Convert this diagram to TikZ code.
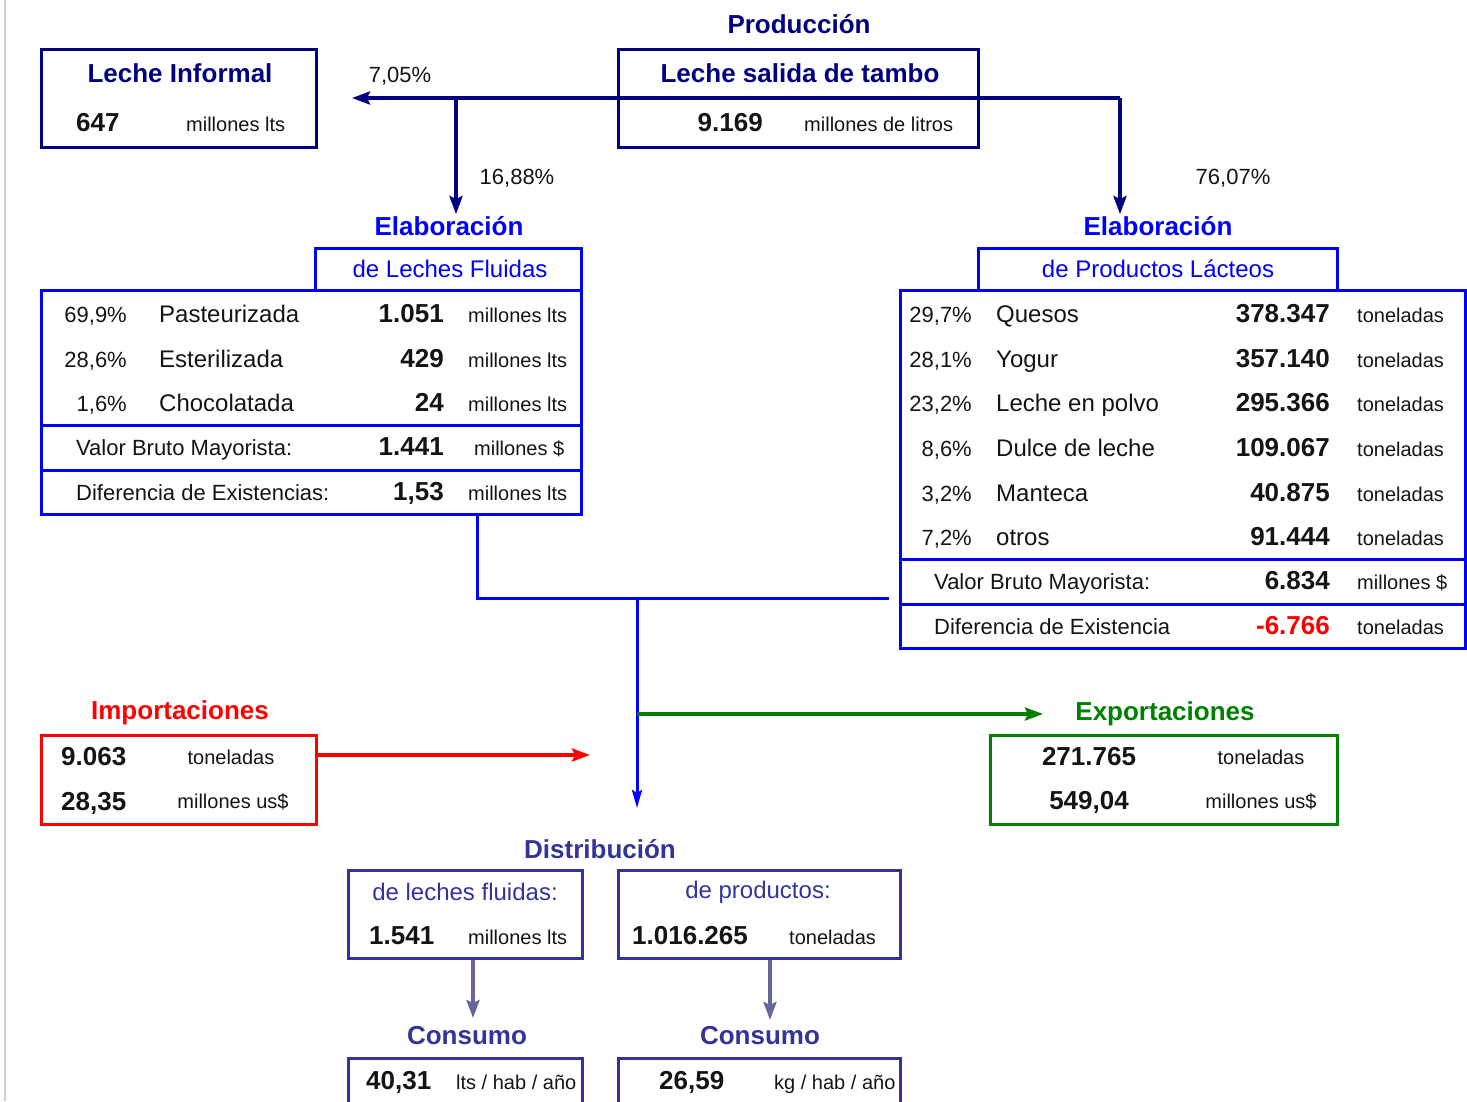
\documentclass[tikz,border=0pt]{standalone}
\usepackage{fontspec}
\setmainfont{Liberation Sans}
\usepackage{xcolor}
\usepackage{tikz}
\usetikzlibrary{calc,arrows.meta,positioning}
\definecolor{lcNavy}{RGB}{0,0,128}
\definecolor{lcBlue}{RGB}{0,0,255}
\definecolor{lcRed}{RGB}{255,0,0}
\definecolor{lcGreen}{RGB}{0,128,0}
\definecolor{lcSlate}{RGB}{51,51,153}
\definecolor{lcSlateLight}{RGB}{102,102,153}
\definecolor{lcText}{RGB}{20,20,20}

\tikzset{
    boxline/.style={draw=#1, line width=3pt, inner sep=0pt},
    ttl/.style={font=\fontsize{26}{30}\selectfont\bfseries, inner sep=2pt},
    subttl/.style={font=\fontsize{24}{28}\selectfont, inner sep=2pt},
    txt/.style={font=\fontsize{24}{28}\selectfont, text=lcText, inner sep=2pt},
    pcttxt/.style={font=\fontsize{22}{26}\selectfont, text=lcText, inner sep=2pt},
    lbl/.style={font=\fontsize{22}{26}\selectfont, text=lcText, inner sep=2pt},
    val/.style={font=\fontsize{26}{30}\selectfont\bfseries, text=lcText, inner sep=2pt},
    unittxt/.style={font=\fontsize{20}{24}\selectfont, text=lcText, inner sep=2pt},
    atleft/.style={anchor=mid west, yshift=-6pt},
    atright/.style={anchor=mid east, yshift=-6pt},
    flow/.style={draw=#1, line width=3.5pt, -{Stealth[length=18pt,width=13pt,inset=3pt]}},
}

\begin{document}
\begin{tikzpicture}[x=1pt,y=-1pt]
    \useasboundingbox (0,0) rectangle (1467,1101);
    \clip (0,0) rectangle (1467,1101);
    \draw[gray!35, line width=1.5pt] (5,0) -- (5,1101);

    \node[boxline=lcNavy, minimum width=275pt, minimum height=98pt] (infBox) at (178.5,98) {};
    \node[ttl, text=lcNavy] (infTtl) at (180,73) {Leche Informal};
    \node[val, atleft] (infVal) at (74,123) {647};
    \node[unittxt, atleft] (infUnit) at (184,123) {millones lts};

    \node[ttl, text=lcNavy] (prodTtl) at (799,24) {Producción};
    \node[boxline=lcNavy, minimum width=360pt, minimum height=98pt] (prodBox) at (798,98) {};
    \node[ttl, text=lcNavy] (prodHead) at (800,73) {Leche salida de tambo};
    \node[val, atright] (prodVal) at (765,123) {9.169};
    \node[unittxt, atleft] (prodUnit) at (802,123) {millones de litros};

    \node[ttl, text=lcBlue] (elabL) at (449,226) {Elaboración};
    \node[boxline=lcBlue, minimum width=266pt, minimum height=42pt] (lflHead) at (448,269) {};
    \node[subttl, text=lcBlue] (lflSub) at (450,269) {de Leches Fluidas};
    \node[boxline=lcBlue, minimum width=540pt, minimum height=224pt] (lflTab) at (311,402) {};
    \draw[lcBlue, line width=3pt] (lflTab.west |- 0,425) -- (lflTab.east |- 0,425);
    \draw[lcBlue, line width=3pt] (lflTab.west |- 0,470) -- (lflTab.east |- 0,470);
    \foreach \p/\n/\v [count=\i] in {{69,9\%}/Pasteurizada/1.051, {28,6\%}/Esterilizada/429, {1,6\%}/Chocolatada/24}{
        \node[pcttxt, atright] (lflP\i) at (129,{314+44.5*(\i-1)}) {\p};
        \node[txt, atleft] (lflN\i) at (157,{314+44.5*(\i-1)}) {\n};
        \node[val, atright] (lflV\i) at (446,{314+44.5*(\i-1)}) {\v};
        \node[unittxt, atleft] (lflU\i) at (466,{314+44.5*(\i-1)}) {millones lts};
    }
    \node[lbl, atleft] (lflVbm) at (74,447) {Valor Bruto Mayorista:};
    \node[val, atright] (lflVbmV) at (446,447) {1.441};
    \node[unittxt, atleft] (lflVbmU) at (472,447) {millones \$};
    \node[lbl, atleft] (lflDif) at (74,492) {Diferencia de Existencias:};
    \node[val, atright] (lflDifV) at (446,492) {1,53};
    \node[unittxt, atleft] (lflDifU) at (466,492) {millones lts};

    \node[ttl, text=lcBlue] (elabR) at (1158,226) {Elaboración};
    \node[boxline=lcBlue, minimum width=359pt, minimum height=42pt] (lacHead) at (1157.5,269) {};
    \node[subttl, text=lcBlue] (lacSub) at (1158,269) {de Productos Lácteos};
    \node[boxline=lcBlue, minimum width=565pt, minimum height=358pt] (lacTab) at (1182.5,469) {};
    \draw[lcBlue, line width=3pt] (lacTab.west |- 0,559) -- (lacTab.east |- 0,559);
    \draw[lcBlue, line width=3pt] (lacTab.west |- 0,604) -- (lacTab.east |- 0,604);
    \foreach \p/\n/\v [count=\i] in {{29,7\%}/Quesos/378.347, {28,1\%}/Yogur/357.140, {23,2\%}/Leche en polvo/295.366,
        {8,6\%}/Dulce de leche/109.067, {3,2\%}/Manteca/40.875, {7,2\%}/otros/91.444}{
        \node[pcttxt, atright] (lacP\i) at (974,{314+44.6*(\i-1)}) {\p};
        \node[txt, atleft] (lacN\i) at (994,{314+44.6*(\i-1)}) {\n};
        \node[val, atright] (lacV\i) at (1332,{314+44.6*(\i-1)}) {\v};
        \node[unittxt, atleft] (lacU\i) at (1355,{314+44.6*(\i-1)}) {toneladas};
    }
    \node[lbl, atleft] (lacVbm) at (932,581) {Valor Bruto Mayorista:};
    \node[val, atright] (lacVbmV) at (1332,581) {6.834};
    \node[unittxt, atleft] (lacVbmU) at (1355,581) {millones \$};
    \node[lbl, atleft] (lacDif) at (932,626) {Diferencia de Existencia};
    \node[val, atright, text=lcRed] (lacDifV) at (1332,626) {-6.766};
    \node[unittxt, atleft] (lacDifU) at (1355,626) {toneladas};

    \coordinate (split) at (456,98);
    \coordinate (rturn) at (1120,98);
    \coordinate (toInf) at (352,98);
    \draw[flow=lcNavy] (rturn) -- (toInf);
    \draw[flow=lcNavy] (split) -- (split |- elabL.north);
    \draw[flow=lcNavy] (rturn) -- (rturn |- elabR.north);
    \node[lbl] (pInf) at (400,76) {7,05\%};
    \node[lbl] (pFl) at (517,178) {16,88\%};
    \node[lbl] (pLac) at (1233,178) {76,07\%};

    \coordinate (join) at (637,598);
    \coordinate (distIn) at (637,808);
    \draw[lcBlue, line width=3pt] ([xshift=166pt]lflTab.south) |- ([xshift=-10pt]lacTab.west |- join);
    \draw[lcBlue, line width=3pt, -{Stealth[length=18pt,width=10pt,inset=3pt]}] (join) -- (distIn);

    \node[ttl, text=lcRed] (impTtl) at (180,713) {Importaciones};
    \node[boxline=lcRed, minimum width=275pt, minimum height=89pt] (impBox) at (178.5,779.5) {};
    \node[val, atleft] (impV1) at (59,757) {9.063};
    \node[unittxt] (impU1) at (231,757) {toneladas};
    \node[val, atleft] (impV2) at (59,802) {28,35};
    \node[unittxt] (impU2) at (233,802) {millones us\$};
    \coordinate (impOut) at (590,755);
    \draw[flow=lcRed] (impBox.east |- impOut) -- (impOut);

    \node[ttl, text=lcGreen] (expTtl) at (1165,714) {Exportaciones};
    \node[boxline=lcGreen, minimum width=347pt, minimum height=89pt] (expBox) at (1163.5,779.5) {};
    \node[val] (expV1) at (1089,757) {271.765};
    \node[unittxt] (expU1) at (1261,757) {toneladas};
    \node[val] (expV2) at (1089,802) {549,04};
    \node[unittxt] (expU2) at (1261,802) {millones us\$};
    \coordinate (expIn) at (1043,714);
    \draw[flow=lcGreen] (join |- expIn) -- (expIn);

    \node[ttl, text=lcSlate] (distTtl) at (600,849) {Distribución};
    \node[boxline=lcSlate, minimum width=234pt, minimum height=88pt] (dFl) at (465,914) {};
    \node[subttl, text=lcSlate] (dFlSub) at (465,892) {de leches fluidas:};
    \node[val, atleft] (dFlV) at (367,936) {1.541};
    \node[unittxt, atleft] (dFlU) at (466,936) {millones lts};
    \node[boxline=lcSlate, minimum width=282pt, minimum height=88pt] (dPr) at (759,914) {};
    \node[subttl, text=lcSlate] (dPrSub) at (758,892) {de productos:};
    \node[val, atleft] (dPrV) at (630,936) {1.016.265};
    \node[unittxt, atleft] (dPrU) at (787,936) {toneladas};

    \coordinate (cIn1) at (473,1018);
    \coordinate (cIn2) at (770,1020);
    \draw[flow=lcSlateLight] (dFl.south -| cIn1) -- (cIn1);
    \draw[flow=lcSlateLight] (dPr.south -| cIn2) -- (cIn2);

    \node[ttl, text=lcSlate] (cFlTtl) at (467,1036) {Consumo};
    \node[boxline=lcSlate, minimum width=234pt, minimum height=64pt] (cFl) at (465,1090) {};
    \node[val, atleft] (cFlV) at (364,1081) {40,31};
    \node[unittxt, atleft] (cFlU) at (454,1081) {lts / hab / año};
    \node[ttl, text=lcSlate] (cPrTtl) at (760,1036) {Consumo};
    \node[boxline=lcSlate, minimum width=282pt, minimum height=64pt] (cPr) at (759,1090) {};
    \node[val, atleft] (cPrV) at (657,1081) {26,59};
    \node[unittxt, atleft] (cPrU) at (772,1081) {kg / hab / año};
\end{tikzpicture}
\end{document}
